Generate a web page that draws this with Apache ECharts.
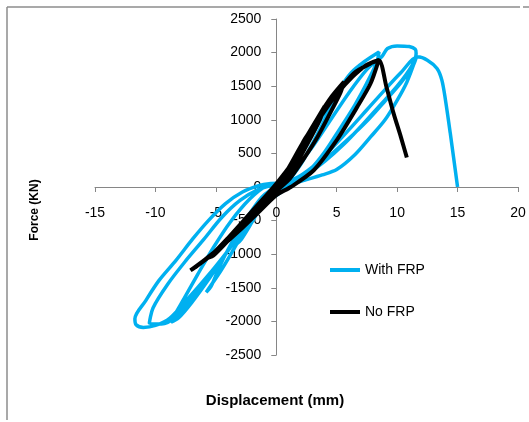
<!DOCTYPE html>
<html>
<head>
<meta charset="utf-8">
<script src="https://cdn.jsdelivr.net/npm/echarts@6/dist/echarts.min.js"></script>
<style>
html,body{margin:0;padding:0;background:#fff;}
#chart{width:529px;height:422px;}
</style>
</head>
<body>
<div id="chart"></div>
<script>
// Axis ticks
var xTicks = [-15, -10, -5, 0, 5, 10, 15, 20];
var yTicks = [-2500, -2000, -1500, -1000, -500, 0, 500, 1000, 1500, 2000, 2500];

var seriesNames = ['With FRP', 'No FRP'];

// With FRP hysteresis (displacement mm, force kN), in loading order
var withFRP = [
  [0,0],[0.8,150],[1.8,450],[2.8,800],[3.6,1050],[3.2,950],[2.4,700],[1.4,350],[0.5,80],[-0.5,-80],[-1.5,-330],[-2.5,-620],[-3.3,-850],[-2.9,-780],[-2.0,-520],[-1.0,-220],[0,0],
  [1,200],[2.2,550],[3.5,950],[4.6,1300],[5.6,1550],[5.0,1350],[4.0,1000],[3.0,650],[2.0,330],[1.0,100],[0,-20],[-1.2,-250],[-2.5,-600],[-3.6,-950],[-4.6,-1250],[-5.8,-1565],[-5.4,-1480],[-4.6,-1150],[-3.6,-800],[-2.4,-450],[-1.2,-150],[0,20],
  [1.2,250],[2.5,650],[3.8,1050],[5.0,1400],[6.2,1700],[7.4,1880],[8.5,2010],[8.3,1850],[7.5,1550],[6.5,1220],[5.2,850],[4.0,520],[2.8,260],[1.5,80],[0.3,-30],[-1,-200],[-2.5,-560],[-4,-950],[-5.5,-1350],[-7,-1720],[-8.1,-1950],[-8.7,-2011],[-8.4,-1900],[-7.6,-1650],[-6.5,-1300],[-5.2,-900],[-3.8,-520],[-2.2,-180],[-0.8,20],[0.5,60],
  [1.5,250],[3,600],[4.5,1000],[6,1400],[7.5,1750],[8.76,1947],[9.2,2060],[10,2100],[11,2090],[11.5,2050],[11.57,1988],[11.2,1800],[10,1500],[8.5,1200],[7,900],[5.5,620],[4,380],[2.5,180],[1,20],[-0.5,-160],[-1.5,-330],[-2.8,-645],[-4.2,-993],[-5.8,-1350],[-7.5,-1700],[-8.8,-1950],[-10,-2060],[-11,-2090],[-11.6,-2050],[-11.7,-1960],[-10.8,-1690],[-9.7,-1390],[-8.3,-1092],[-6.9,-769],[-5.6,-496],[-4.2,-247],[-2.8,-74],[-1.4,25],[-0.6,50],[0.5,55],[1.5,60],[2.5,110],[3.8,180],[5,260],[6.5,480],[7.8,745],[9,1000],[10,1290],[10.8,1560],[11.6,1940],
  [11.3,1800],[10.3,1550],[9,1280],[7.5,980],[6,720],[4.5,480],[3,260],[1.5,60],[0.2,-100],[-1,-250],[-2.5,-580],[-4,-950],[-5.5,-1300],[-7,-1650],[-8.3,-1930],[-9.5,-2040],[-10.5,-2030],[-10.2,-1800],[-9,-1450],[-7.5,-1100],[-6,-780],[-4.5,-450],[-3,-200],[-1.5,-40],[0,40],[1.5,120],[3,300],[4.5,560],[6,850],[7.5,1150],[9,1450],[10.3,1700],[11.7,1937],[12.5,1888],[13.3,1764],[13.7,1590],[14.0,1292],[14.4,795],[15,0]
];

// No FRP hysteresis
var noFRP = [
  [0,0],[0.8,200],[1.6,450],[2.4,700],[2.0,560],[1.2,280],[0.3,40],[-0.8,-150],[-1.8,-330],[-2.6,-480],[-2.2,-430],[-1.2,-220],[0,0],
  [1,280],[2,600],[3,900],[4,1200],[3.6,1000],[2.6,650],[1.6,330],[0.6,80],[-0.6,-120],[-1.8,-350],[-3,-580],[-4.2,-800],[-3.8,-760],[-2.6,-530],[-1.4,-270],[0,0],
  [1,250],[2.2,650],[3.5,1050],[4.6,1350],[5.6,1565],[5.3,1400],[4.4,1080],[3.4,740],[2.2,400],[1.1,120],[0,-60],[-1.4,-320],[-2.8,-580],[-4.2,-830],[-5.6,-1050],[-5.2,-1020],[-4,-800],[-2.7,-540],[-1.3,-250],[0,0],
  [1.2,300],[2.3,696],[3.66,1043],[5.0,1391],[6.4,1690],[7.8,1839],[8.48,1888],[7.8,1540],[6.7,1192],[5.0,696],[3.1,249],[1.2,0],[0,-120],[-1.5,-380],[-3,-640],[-4.5,-880],[-5.9,-1080],[-7.1,-1241],[-6.6,-1180],[-5.3,-1000],[-4,-760],[-2.6,-480],[-1.2,-200],[0,50],[1.2,330],[2.5,720],[3.8,1080],[5,1380],[6.3,1640],[7.5,1820],[8.48,1888],[9.1,1500],[9.7,1100],[10.3,750],[10.8,438]
];

var chart = echarts.init(document.getElementById('chart'), null, {renderer: 'canvas'});
var axisGray = '#868686';
var labelFont = 'Liberation Sans, Arial, sans-serif';

var gridLeft = 95, gridRight = 11, gridTop = 19, gridBottom = 67;
var W = 529, H = 422;
var gw = W - gridLeft - gridRight, gh = H - gridTop - gridBottom;
var xMin = xTicks[0], xMax = xTicks[xTicks.length - 1];
var yMin = yTicks[0], yMax = yTicks[yTicks.length - 1];
// offsets so the axes (with their labels) cross at zero
var yAxisOffset = -gw * (0 - xMin) / (xMax - xMin);
var xAxisOffset = -gh * (0 - yMin) / (yMax - yMin);

chart.setOption({
  animation: false,
  backgroundColor: '#ffffff',
  grid: {left: gridLeft, right: gridRight, top: gridTop, bottom: gridBottom, containLabel: false},
  xAxis: {
    type: 'value',
    min: xMin, max: xMax, interval: 5,
    offset: xAxisOffset,
    axisLine: {onZero: false, lineStyle: {color: axisGray, width: 1}},
    axisTick: {show: true, length: 5, lineStyle: {color: axisGray}},
    axisLabel: {margin: 19, color: '#000', fontSize: 14, fontFamily: labelFont, formatter: function (v) { return String(v); }},
    splitLine: {show: false}
  },
  yAxis: {
    type: 'value',
    min: yMin, max: yMax, interval: 500,
    offset: yAxisOffset,
    axisLine: {show: true, onZero: false, lineStyle: {color: axisGray, width: 1}},
    axisTick: {show: true, length: 5, lineStyle: {color: axisGray}},
    axisLabel: {margin: 15, color: '#000', fontSize: 14, fontFamily: labelFont, formatter: function (v) { return String(v); }},
    splitLine: {show: false}
  },
  legend: {
    orient: 'vertical',
    left: 330, top: 262,
    padding: 0,
    itemWidth: 30, itemHeight: 4, itemGap: 26,
    icon: 'rect',
    textStyle: {color: '#000', fontSize: 14, fontFamily: labelFont, lineHeight: 16},
    data: seriesNames
  },
  series: [
    {
      name: seriesNames[0], type: 'line', data: withFRP,
      smooth: 0.3, symbol: 'none',
      lineStyle: {color: '#00B0F0', width: 3.5},
      itemStyle: {color: '#00B0F0'}
    },
    {
      name: seriesNames[1], type: 'line', data: noFRP,
      smooth: 0.25, symbol: 'none',
      lineStyle: {color: '#000000', width: 4},
      itemStyle: {color: '#000000'}
    }
  ],
  graphic: [
    {type: 'line', shape: {x1: 7, y1: 7, x2: 520, y2: 7}, style: {stroke: '#8c8c8c', lineWidth: 1.5}},
    {type: 'line', shape: {x1: 523, y1: 7, x2: 529, y2: 7}, style: {stroke: '#8c8c8c', lineWidth: 1.5}},
    {type: 'line', shape: {x1: 7, y1: 7, x2: 7, y2: 420}, style: {stroke: '#8c8c8c', lineWidth: 1.5}},
    {type: 'text', x: 35, y: 210, rotation: Math.PI / 2,
      style: {text: 'Force (KN)', font: 'bold 12px Liberation Sans, Arial, sans-serif', fill: '#000', textAlign: 'center', textVerticalAlign: 'middle'}},
    {type: 'text', x: 275, y: 401,
      style: {text: 'Displacement (mm)', font: 'bold 15px Liberation Sans, Arial, sans-serif', fill: '#000', textAlign: 'center', textVerticalAlign: 'middle'}}
  ]
});
</script>
</body>
</html>
